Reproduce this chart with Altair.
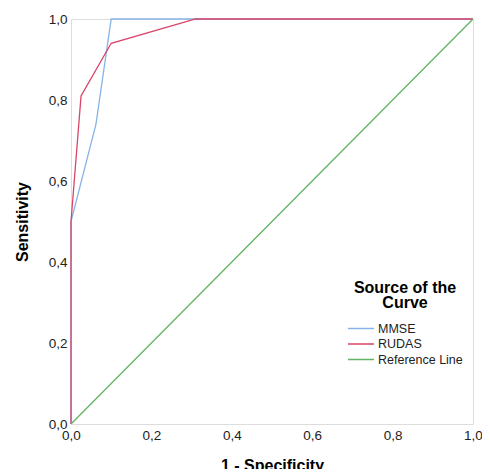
import altair as alt
import pandas as pd

series_names = ["MMSE", "RUDAS", "Reference Line"]
colors = ["#86b4e8", "#d9446a", "#62b462"]

mmse_x = [0.0, 0.0, 0.062, 0.10, 1.0]
mmse_y = [0.0, 0.50, 0.74, 1.0, 1.0]
rudas_x = [0.0, 0.0, 0.025, 0.10, 0.31, 1.0]
rudas_y = [0.0, 0.50, 0.81, 0.94, 1.0, 1.0]
ref_x = [0.0, 1.0]
ref_y = [0.0, 1.0]

rows = []
for name, xs, ys in [("MMSE", mmse_x, mmse_y), ("RUDAS", rudas_x, rudas_y), ("Reference Line", ref_x, ref_y)]:
    for i, (a, b) in enumerate(zip(xs, ys)):
        rows.append({"series": name, "fpr": a, "tpr": b, "order": i})
df = pd.DataFrame(rows)

label_expr = "replace(format(datum.value, '.1f'), '.', ',')"
font = "Liberation Sans"

chart = alt.Chart(df).mark_line(strokeWidth=1.3).encode(
    x=alt.X("fpr:Q", scale=alt.Scale(domain=[0, 1], nice=False),
            axis=alt.Axis(title="1 - Specificity", values=[0, 0.2, 0.4, 0.6, 0.8, 1.0],
                          labelExpr=label_expr, ticks=False, grid=False, domain=False,
                          labelFontSize=13.5, labelColor="#222", labelPadding=4,
                          titleFontSize=16, titleFontWeight="bold", titleColor="#000",
                          titlePadding=16, labelFlush=False)),
    y=alt.Y("tpr:Q", scale=alt.Scale(domain=[0, 1], nice=False),
            axis=alt.Axis(title="Sensitivity", values=[0, 0.2, 0.4, 0.6, 0.8, 1.0],
                          labelExpr=label_expr, ticks=False, grid=False, domain=False,
                          labelFontSize=13.5, labelColor="#222", labelPadding=4,
                          titleFontSize=16, titleFontWeight="bold", titleColor="#000",
                          titlePadding=18, labelFlush=False)),
    color=alt.Color("series:N", scale=alt.Scale(domain=series_names, range=colors),
                    legend=alt.Legend(title=["Source of the", "Curve"], orient="none",
                                      legendX=276, legendY=261,
                                      titleFontSize=16, titleFontWeight="bold", titleColor="#000",
                                      titleAlign="center", titleAnchor="middle", titleLineHeight=15,
                                      titlePadding=10,
                                      labelFontSize=12.5, labelColor="#222", labelOffset=16,
                                      symbolType="M-1,0H3", symbolSize=169, symbolStrokeWidth=1.5,
                                      rowPadding=1.5)),
    order="order:Q",
    detail="series:N",
).properties(
    width=402, height=405,
    autosize=alt.AutoSizeParams(type="none"),
    padding={"left": 63, "top": 11, "right": 9, "bottom": 45},
).configure_view(
    stroke="#555", strokeWidth=1.2
).configure(
    font=font
)

chart.save("out.html", embed_options={"renderer": "svg", "actions": False})
